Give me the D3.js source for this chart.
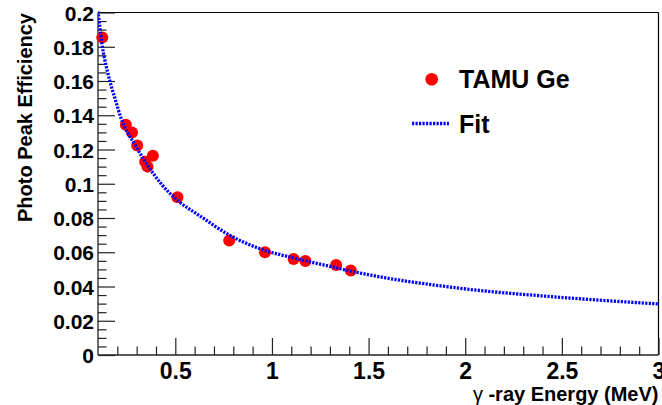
<!DOCTYPE html>
<html>
<head>
<meta charset="utf-8">
<script src="https://cdn.jsdelivr.net/npm/d3@7"></script>
<style>
  html, body { margin: 0; padding: 0; background: #fff; }
  svg { display: block; font-family: "Liberation Sans", Arial, Helvetica, sans-serif; }
</style>
</head>
<body>
<svg id="chart" width="662" height="405"></svg>
<script>
// ---- data ----
const energies = [0.122, 0.244, 0.276, 0.303, 0.344, 0.356, 0.384, 0.511, 0.779, 0.964, 1.112, 1.173, 1.332, 1.408];
const efficiencies = [0.1854, 0.1344, 0.1299, 0.1223, 0.1129, 0.1100, 0.1164, 0.0921, 0.0668, 0.0600, 0.0561, 0.0549, 0.0526, 0.0493];
const fitEnergies = [0.1, 0.12, 0.15, 0.19, 0.22, 0.29, 0.35, 0.43, 0.51, 0.63, 0.78, 0.96, 1.12, 1.33, 1.45, 1.97, 2.49, 3.0];
const fitValues = [0.201, 0.182, 0.165, 0.149, 0.138, 0.123, 0.112, 0.0995, 0.0905, 0.081, 0.070, 0.0612, 0.0565, 0.051, 0.048, 0.039, 0.0337, 0.0298];
const xTickValues = [0.5, 1, 1.5, 2, 2.5, 3];
const xTickLabels = ["0.5", "1", "1.5", "2", "2.5", "3"];
const yTickValues = [0, 0.02, 0.04, 0.06, 0.08, 0.1, 0.12, 0.14, 0.16, 0.18, 0.2];
const yTickLabels = ["0", "0.02", "0.04", "0.06", "0.08", "0.1", "0.12", "0.14", "0.16", "0.18", "0.2"];
const legendLabels = ["TAMU Ge", "Fit"];
const xTitle = "-ray Energy (MeV)";
const yTitle = "Photo Peak Efficiency";

// ---- layout ----
const L = 98, R = 658.5, T = 12.5, B = 355;
const svg = d3.select("#chart");
const x = d3.scaleLinear().domain([0.1, 3]).range([L, R]);
const y = d3.scaleLinear().domain([0, 0.2]).range([B, T]);

const axisColor = "#222";
const fitDash = "2.2,1.3";

// frame (top & right)
svg.append("line").attr("x1", L).attr("x2", R).attr("y1", T).attr("y2", T).attr("stroke", "#000").attr("stroke-width", 1.2);
svg.append("line").attr("x1", R).attr("x2", R).attr("y1", T).attr("y2", B).attr("stroke", "#000").attr("stroke-width", 1.2);

// minor ticks
const xMinor = d3.range(2, 30).map(d => d / 10).filter(v => Math.abs(v * 2 - Math.round(v * 2)) > 1e-6);
const yMinor = d3.range(1, 40).map(d => d * 0.005).filter(v => Math.abs(v / 0.02 - Math.round(v / 0.02)) > 1e-6);

const xAxisMinor = d3.axisBottom(x).tickValues(xMinor).tickSize(-8.5).tickFormat("");
const xAxis = d3.axisBottom(x).tickValues(xTickValues).tickSize(-17)
  .tickFormat((d, i) => xTickLabels[i]).tickPadding(0);
const yAxisMinor = d3.axisLeft(y).tickValues(yMinor).tickSize(-8.5).tickFormat("");
const yAxis = d3.axisLeft(y).tickValues(yTickValues).tickSize(-17)
  .tickFormat((d, i) => yTickLabels[i]).tickPadding(0);

function styleAxis(g) {
  g.select(".domain").remove();
  g.selectAll(".tick line").attr("stroke", axisColor).attr("stroke-width", 1.2);
}

svg.append("g").attr("transform", `translate(0,${B})`).call(xAxisMinor).call(styleAxis);
const gx = svg.append("g").attr("transform", `translate(0,${B})`).call(xAxis).call(styleAxis);
gx.selectAll(".tick text").attr("y", 23.5).attr("dy", 0)
  .attr("font-family", "Liberation Sans, Arial, sans-serif")
  .attr("font-size", 23).attr("font-weight", "bold").attr("fill", "#000");

svg.append("g").attr("transform", `translate(${L},0)`).call(yAxisMinor).call(styleAxis);
const gy = svg.append("g").attr("transform", `translate(${L},0)`).call(yAxis).call(styleAxis);
gy.selectAll(".tick text").attr("x", -4).attr("dy", "0.36em")
  .attr("font-family", "Liberation Sans, Arial, sans-serif")
  .attr("font-size", 21).attr("font-weight", "bold").attr("fill", "#000");

// axis lines
svg.append("line").attr("x1", L).attr("x2", R).attr("y1", B).attr("y2", B).attr("stroke", axisColor).attr("stroke-width", 1.3);
svg.append("line").attr("x1", L).attr("x2", L).attr("y1", T).attr("y2", B).attr("stroke", axisColor).attr("stroke-width", 1.3);

// clip
svg.append("defs").append("clipPath").attr("id", "clip")
  .append("rect").attr("x", L).attr("y", T - 1).attr("width", R - L).attr("height", B - T + 1);

// data points
const pts = energies.map((e, i) => ({ e, v: efficiencies[i] }));
svg.append("g").selectAll("circle").data(pts).join("circle")
  .attr("cx", d => x(d.e)).attr("cy", d => y(d.v)).attr("r", 6).attr("fill", "#ff0000");

// fit curve (drawn over the points)
const fitData = fitEnergies.map((e, i) => [e, fitValues[i]]);
const line = d3.line().x(d => x(d[0])).y(d => y(d[1])).curve(d3.curveMonotoneX);
svg.append("path").datum(fitData).attr("clip-path", "url(#clip)")
  .attr("d", line).attr("fill", "none").attr("stroke", "#0000ff")
  .attr("stroke-width", 3.3).attr("stroke-dasharray", fitDash);

// legend
const lg = svg.append("g");
lg.append("circle").attr("cx", 431.7).attr("cy", 79.3).attr("r", 6.3).attr("fill", "#ff0000");
lg.append("text").attr("x", 459).attr("y", 87.5).text(legendLabels[0])
  .attr("font-size", 25).attr("font-weight", "bold").attr("fill", "#000");
lg.append("line").attr("x1", 412).attr("x2", 449).attr("y1", 123.5).attr("y2", 123.5)
  .attr("stroke", "#0000ff").attr("stroke-width", 3.3).attr("stroke-dasharray", fitDash);
lg.append("text").attr("x", 459).attr("y", 132.5).text(legendLabels[1])
  .attr("font-size", 25).attr("font-weight", "bold").attr("fill", "#000");

// axis titles
const xt = svg.append("text").attr("x", R).attr("y", 401).attr("text-anchor", "end")
  .attr("font-size", 20).attr("font-weight", "bold").attr("fill", "#000");
xt.append("tspan").attr("font-weight", "normal").text("\u03B3 ");
xt.append("tspan").text(xTitle);

svg.append("text").attr("transform", "translate(31.5,13) rotate(-90)")
  .attr("text-anchor", "end").attr("font-size", 20).attr("font-weight", "bold").attr("fill", "#000")
  .text(yTitle);
</script>
</body>
</html>
